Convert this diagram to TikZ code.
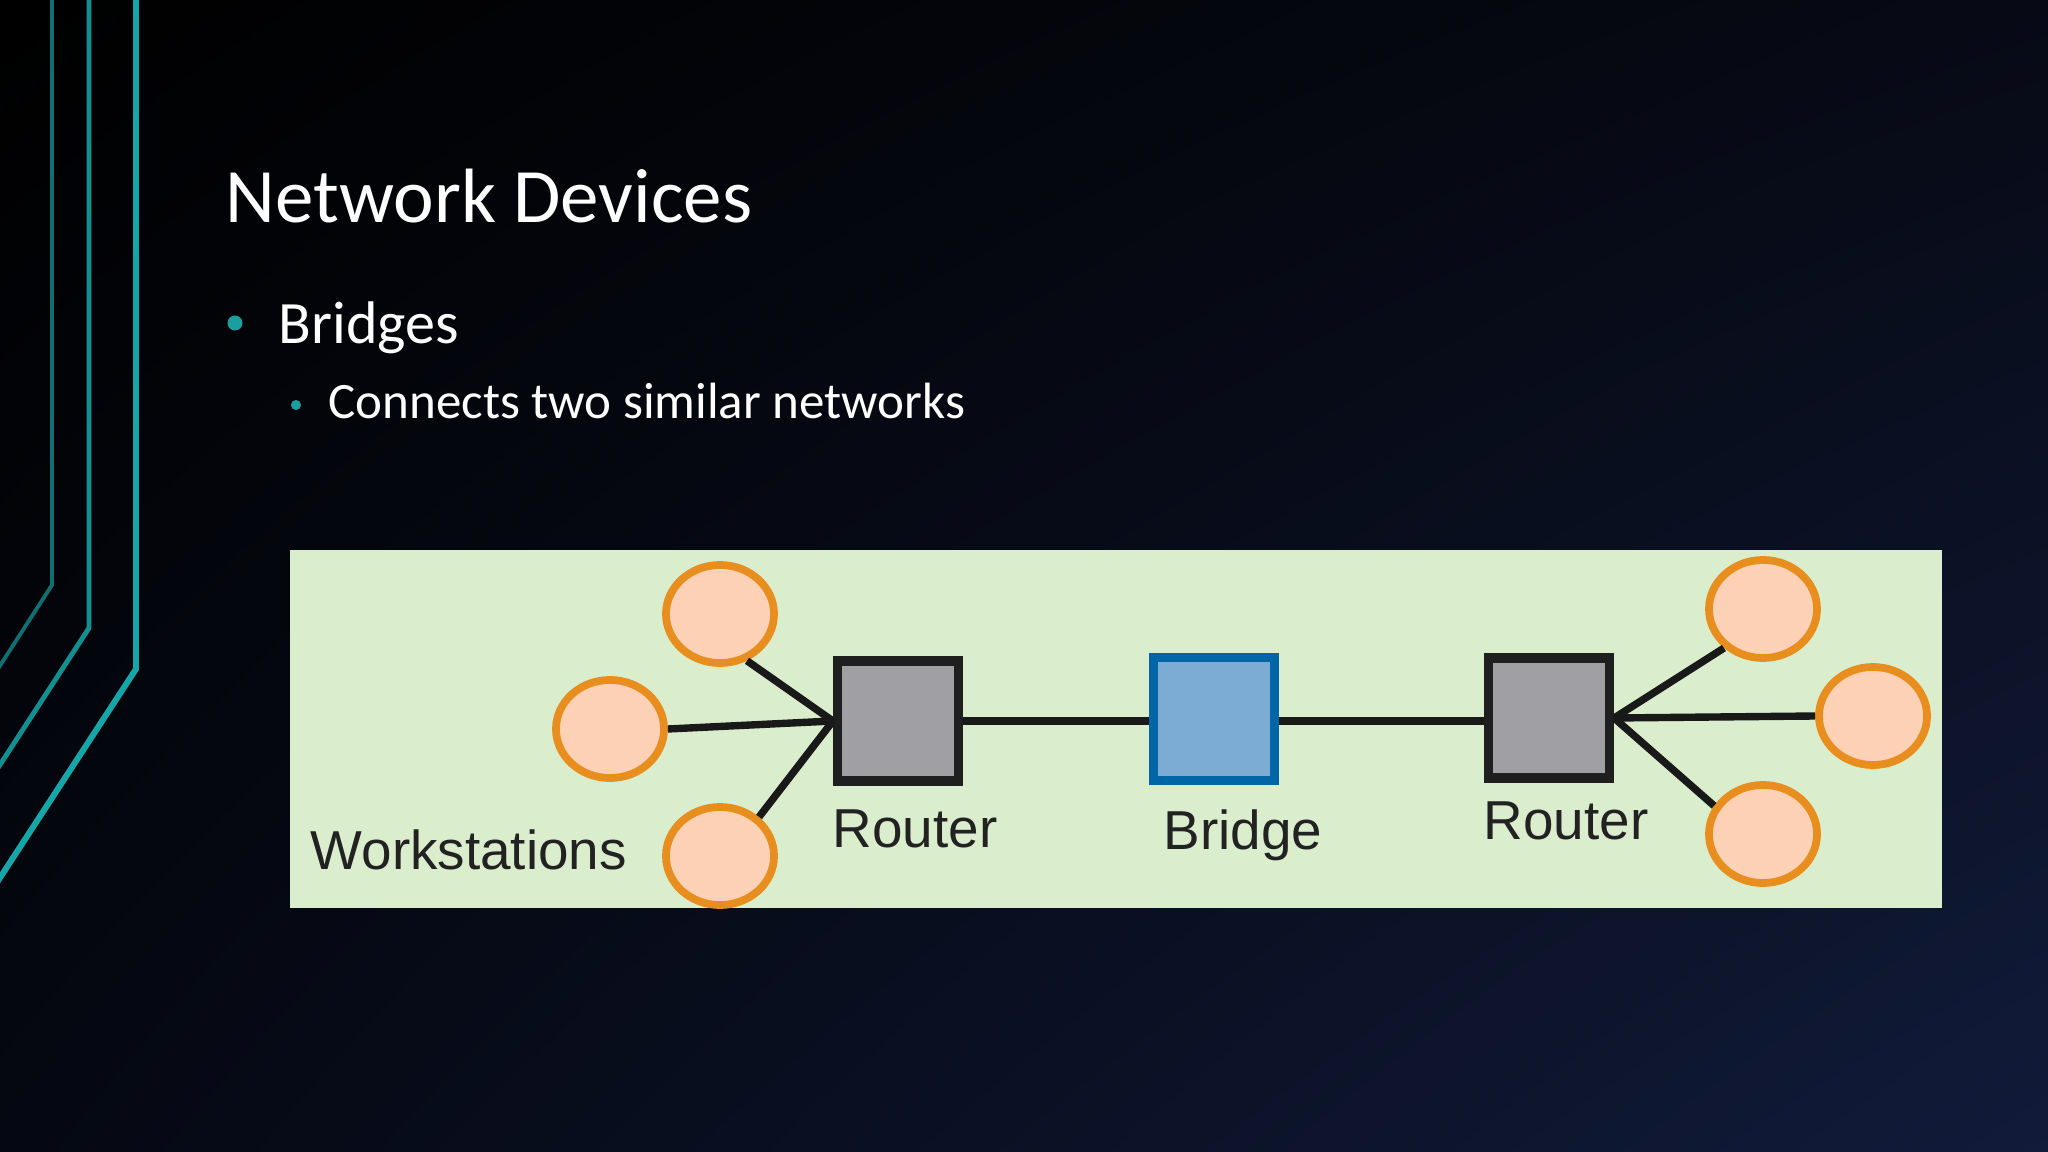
\documentclass[tikz,border=0pt]{standalone}
\usepackage{fontspec}
\setmainfont{Carlito}
\newfontfamily\diagfont{Liberation Sans}
\usetikzlibrary{shapes.geometric,shadings,positioning}
\definecolor{bgtl}{HTML}{000000}
\definecolor{bgtr}{HTML}{070A15}
\definecolor{bgbl}{HTML}{050812}
\definecolor{bgbr}{HTML}{111B3A}
\definecolor{tealA}{HTML}{0F6F71}
\definecolor{tealB}{HTML}{128F90}
\definecolor{tealC}{HTML}{15A6A7}
\definecolor{bullteal}{HTML}{1A9E9E}
\definecolor{panelgreen}{HTML}{DAEDCC}
\definecolor{wsfill}{HTML}{FDD1B5}
\definecolor{wsedge}{HTML}{E88E1E}
\definecolor{routergray}{HTML}{A0A0A4}
\definecolor{bridgefill}{HTML}{7CABD3}
\definecolor{bridgeedge}{HTML}{0066A6}
\definecolor{inkdark}{HTML}{222222}
\tikzset{
titletext/.style={anchor=base west,inner sep=0pt,text=white,font=\fontsize{21.9}{26}\selectfont},
leveltext/.style={anchor=base west,inner sep=0pt,text=white,font=\fontsize{17.1}{20}\selectfont},
subtext/.style={anchor=base west,inner sep=0pt,text=white,font=\fontsize{14.5}{17}\selectfont},
bulletdot/.style={circle,fill=bullteal,inner sep=0pt},
ws/.style={ellipse,draw=wsedge,fill=wsfill,line width=2.2pt,minimum width=1.08cm,minimum height=0.98cm,inner sep=0pt},
router/.style={rectangle,draw=black!88,fill=routergray,line width=2.6pt,minimum width=1.21cm,minimum height=1.2cm,inner sep=0pt},
bridgebox/.style={rectangle,draw=bridgeedge,fill=bridgefill,line width=2.6pt,minimum width=1.21cm,minimum height=1.23cm,inner sep=0pt},
link/.style={line width=2.1pt,black!90},
devlabel/.style={anchor=base west,inner sep=0pt,text=inkdark,font=\diagfont\fontsize{15.6}{18}\selectfont},
sideline/.style={line width=#1,line join=miter}
}
\begin{document}
\begin{tikzpicture}[x=0.01cm,y=-0.01cm]
\useasboundingbox (0,0) rectangle (2048,1152);
\shade[upper left=bgtl,upper right=bgtr,lower left=bgbl,lower right=bgbr] (0,0) rectangle (2048,1152);
% side lines
\draw[sideline=1.1pt,tealA] (52,-10) -- (52,585) -- (-6,675);
\draw[sideline=1.4pt,tealB] (89,-10) -- (89,628) -- (-6,774);
\draw[sideline=1.7pt,tealC] (136,-10) -- (136,669) -- (-6,887);
% title and bullets
\node[titletext] (title) at (225,223) {Network Devices};
\node[bulletdot,minimum size=0.15cm] (dot1) at (235,323) {};
\node[leveltext] (bridges) at (278,344) {Bridges};
\node[bulletdot,minimum size=0.10cm] (dot2) at (296,405) {};
\node[subtext] (connects) at (328,419) {Connects two similar networks};
% diagram
\fill[panelgreen] (290,550) rectangle (1942,908);
\node[router] (rl) at (898,721) {};
\node[bridgebox] (br) at (1214,719) {};
\node[router] (rr) at (1549,718) {};
\node[ws] (wl1) at (720,614) {};
\node[ws] (wl2) at (610,729) {};
\node[ws] (wl3) at (720,856) {};
\node[ws] (wr1) at (1763,609) {};
\node[ws] (wr2) at (1873,716) {};
\node[ws] (wr3) at (1763,834) {};
\draw[link] (rl.east) -- (br.west |- rl.east);
\draw[link] (br.east |- rl.east) -- (rr.west |- rl.east);
\draw[link] (rl.west) -- (wl1.-60);
\draw[link] (rl.west) -- (wl2.east);
\draw[link] (rl.west) -- (wl3.45);
\draw[link] (rr.east) -- (wr1.-135);
\draw[link] (rr.east) -- (wr2.west);
\draw[link] (rr.east) -- (wr3.150);
\node[devlabel] (wslabel) at (310,869) {Workstations};
\node[devlabel] (rllabel) at (832,847) {Router};
\node[devlabel] (brlabel) at (1163,849) {Bridge};
\node[devlabel] (rrlabel) at (1483,839) {Router};
\end{tikzpicture}
\end{document}
